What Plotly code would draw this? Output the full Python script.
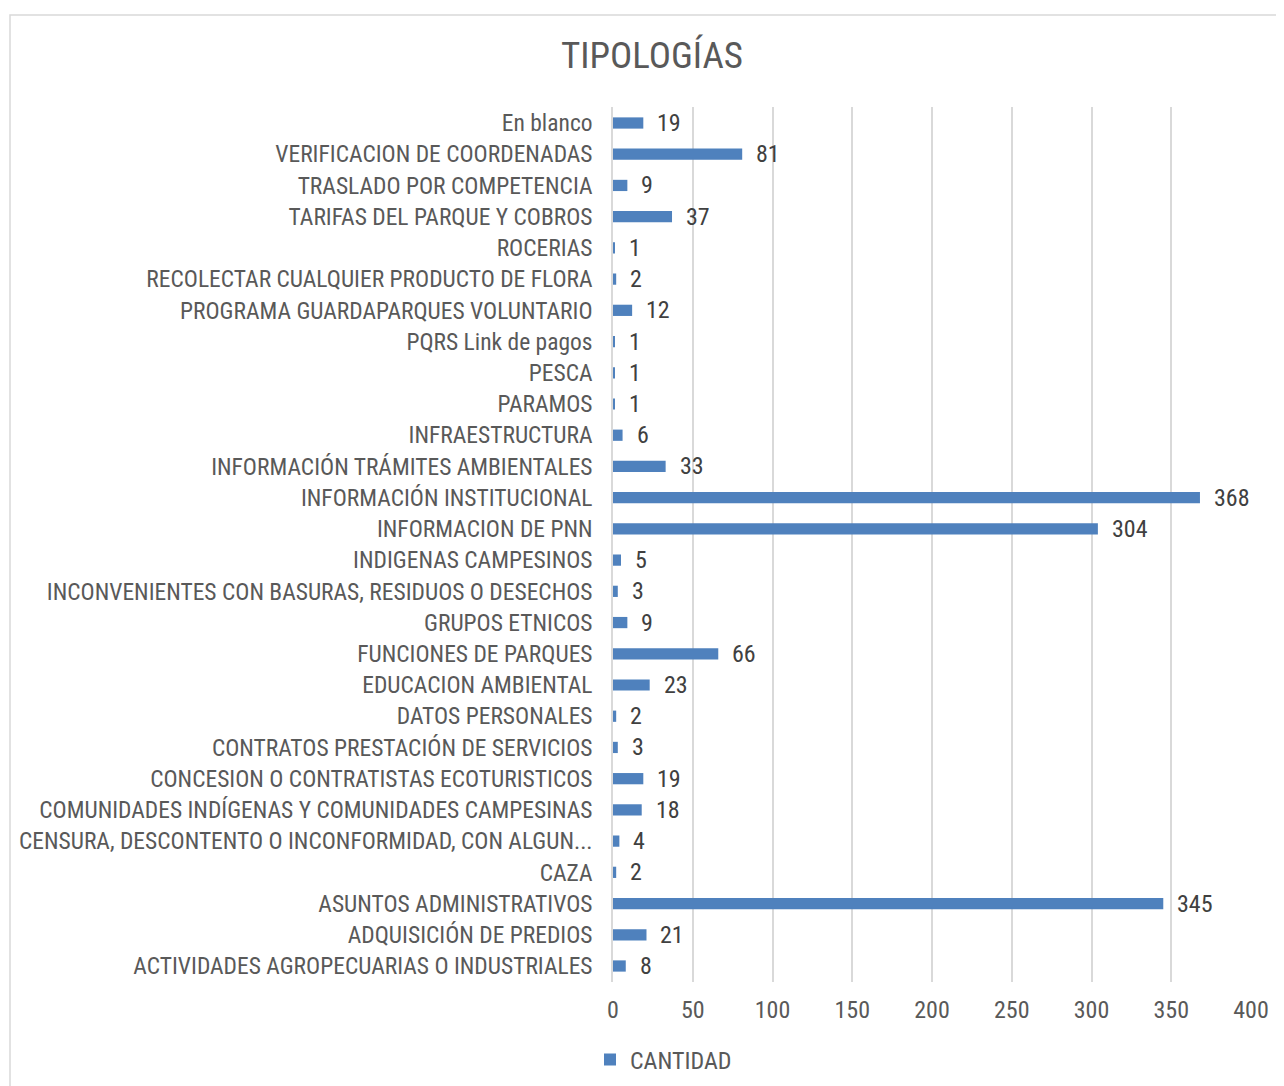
import plotly.graph_objects as go

categories = [
    "En blanco",
    "VERIFICACION DE COORDENADAS",
    "TRASLADO POR COMPETENCIA",
    "TARIFAS DEL PARQUE Y COBROS",
    "ROCERIAS",
    "RECOLECTAR CUALQUIER PRODUCTO DE FLORA",
    "PROGRAMA GUARDAPARQUES VOLUNTARIO",
    "PQRS Link de pagos",
    "PESCA",
    "PARAMOS",
    "INFRAESTRUCTURA",
    "INFORMACIÓN TRÁMITES AMBIENTALES",
    "INFORMACIÓN INSTITUCIONAL",
    "INFORMACION DE PNN",
    "INDIGENAS CAMPESINOS",
    "INCONVENIENTES CON BASURAS, RESIDUOS O DESECHOS",
    "GRUPOS ETNICOS",
    "FUNCIONES DE PARQUES",
    "EDUCACION AMBIENTAL",
    "DATOS PERSONALES",
    "CONTRATOS PRESTACIÓN DE SERVICIOS",
    "CONCESION O CONTRATISTAS ECOTURISTICOS",
    "COMUNIDADES INDÍGENAS Y COMUNIDADES CAMPESINAS",
    "CENSURA, DESCONTENTO O INCONFORMIDAD, CON ALGUN...",
    "CAZA",
    "ASUNTOS ADMINISTRATIVOS",
    "ADQUISICIÓN DE PREDIOS",
    "ACTIVIDADES AGROPECUARIAS O INDUSTRIALES",
]
cantidad = [19, 81, 9, 37, 1, 2, 12, 1, 1, 1, 6, 33, 368, 304, 5, 3, 9, 66,
            23, 2, 3, 19, 18, 4, 2, 345, 21, 8]
x_ticks = [0, 50, 100, 150, 200, 250, 300, 350, 400]

FONT = "Roboto Condensed, Arial Narrow, sans-serif"
TXT = "#595959"
BAR = "#4F81BD"

W, H = 1276, 1078
L, R, T, B = 605, 33, 99, 104
PW, PH = W - L - R, H - T - B

fig = go.Figure()
fig.add_trace(go.Bar(
    y=categories, x=cantidad, orientation="h", name="CANTIDAD",
    marker=dict(color=BAR, line=dict(width=0)),
))

for c, v in zip(categories, cantidad):
    fig.add_annotation(x=v, y=c, text=str(v), showarrow=False,
                       xanchor="left", xshift=12,
                       font=dict(family=FONT, size=24, color="#404040"))

# outer chart border
fig.add_shape(type="rect", xref="paper", yref="paper",
              x0=(2 - L) / PW, x1=1.3, y0=-0.3, y1=(H - B - 7) / PH,
              line=dict(color="#D9D9D9", width=1.5), layer="below")

fig.update_layout(
    width=W, height=H,
    margin=dict(l=L, r=R, t=T, b=B, autoexpand=False),
    paper_bgcolor="white", plot_bgcolor="white",
    bargap=0.64,
    title=dict(text="TIPOLOGÍAS", x=644 / W, xanchor="center",
               y=1 - 47 / H, yanchor="middle", yref="container",
               font=dict(family=FONT, size=37, color=TXT)),
    font=dict(family=FONT, color=TXT),
    showlegend=True,
    legend=dict(orientation="h", x=(582 - L) / PW, y=26 / H,
                yref="container", xanchor="left", yanchor="middle",
                font=dict(family=FONT, size=24, color=TXT), itemwidth=30),
    xaxis=dict(range=[0, 400], tickvals=x_ticks, showgrid=True,
               gridcolor="#D9D9D9", gridwidth=1.5, zeroline=False,
               showline=False, ticks="", ticklabelstandoff=11,
               automargin=False,
               tickfont=dict(family=FONT, size=24, color=TXT)),
    yaxis=dict(autorange="reversed", showgrid=False, showline=True,
               linecolor="#D9D9D9", linewidth=1.5, ticks="",
               ticklabelstandoff=14, automargin=False,
               tickfont=dict(family=FONT, size=23.5, color=TXT)),
)

fig.write_html("out.html")
